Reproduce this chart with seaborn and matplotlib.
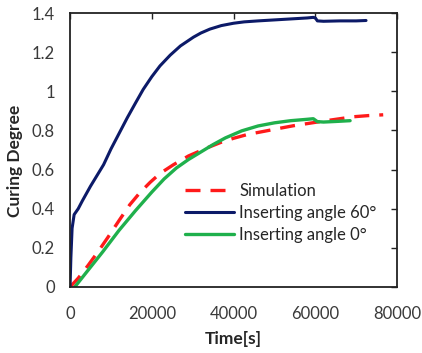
import matplotlib
matplotlib.use("Agg")
import matplotlib.pyplot as plt
import seaborn as sns

# ---- data ----
sim_t = [0, 2000, 4400, 7000, 9300, 12000, 14600, 17000, 19600, 22000, 25300,
         29000, 33400, 37000, 40000, 43500, 47300, 51000, 54600, 58000, 62000,
         66000, 69300, 73000, 76600]
sim_y = [0, 0.045, 0.11, 0.185, 0.255, 0.34, 0.42, 0.48, 0.535, 0.58, 0.625,
         0.67, 0.71, 0.74, 0.76, 0.78, 0.795, 0.81, 0.824, 0.835, 0.848,
         0.86, 0.87, 0.876, 0.88]

a60_t = [0, 200, 500, 1000, 2000, 3000, 5000, 8200, 10000, 12000, 14000, 16000,
         17900, 20000, 22000, 24500, 27000, 30200, 32000, 34200, 37000, 40000,
         42600, 46000, 50000, 54000, 58000, 59500, 60000, 60500, 62000, 66000,
         70000, 72400]
a60_y = [0, 0.15, 0.30, 0.37, 0.40, 0.44, 0.515, 0.625, 0.705, 0.785, 0.865, 0.94,
         1.01, 1.075, 1.13, 1.185, 1.232, 1.277, 1.298, 1.318, 1.336, 1.348,
         1.355, 1.36, 1.365, 1.37, 1.375, 1.378, 1.375, 1.36, 1.358, 1.36,
         1.36, 1.362]

a0_t = [1150, 4000, 8000, 12000, 16000, 20000, 23000, 26000, 29000, 32000,
        35000, 38000, 42000, 46000, 50000, 54000, 58000, 59500, 60500, 62000,
        65000, 68500]
a0_y = [0, 0.075, 0.18, 0.29, 0.39, 0.485, 0.552, 0.608, 0.652, 0.69,
        0.728, 0.762, 0.798, 0.823, 0.839, 0.85, 0.857, 0.86, 0.845, 0.843,
        0.846, 0.85]

labels = ["Simulation", "Inserting angle 60°", "Inserting angle 0°"]
x_ticks = [0, 20000, 40000, 60000, 80000]
y_ticks = [0, 0.2, 0.4, 0.6, 0.8, 1.0, 1.2, 1.4]
y_tick_labels = ["0", "0.2", "0.4", "0.6", "0.8", "1", "1.2", "1.4"]

sns.set_style("white")
plt.rcParams["font.family"] = ["Lato", "DejaVu Sans"]

fig = plt.figure(figsize=(4.22, 3.53), dpi=100)
ax = fig.add_axes([0.166, 0.187, 0.775, 0.776])

sns.lineplot(x=sim_t, y=sim_y, ax=ax, color="#ff1a1a", lw=2.4,
             label=labels[0], estimator=None, sort=False)
ax.lines[-1].set_dashes([4.5, 3.0])
sns.lineplot(x=a60_t, y=a60_y, ax=ax, color="#0c1a68", lw=2.2,
             label=labels[1], estimator=None, sort=False)
sns.lineplot(x=a0_t, y=a0_y, ax=ax, color="#1fb04c", lw=2.4,
             label=labels[2], estimator=None, sort=False)

ax.set_xlim(0, 80000)
ax.set_ylim(0, 1.4)
ax.set_xticks(x_ticks)
ax.set_xticklabels([str(v) for v in x_ticks])
ax.set_yticks(y_ticks)
ax.set_yticklabels(y_tick_labels)
ax.tick_params(direction="in", length=4, width=1, top=True, right=True,
               labelsize=12, labelcolor="#3a3a3a", color="#222222")
ax.tick_params(axis="x", pad=14)
ax.tick_params(axis="y", pad=11)
for s in ax.spines.values():
    s.set_visible(True)
    s.set_color("#222222")
    s.set_linewidth(1.3)

ax.set_xlabel("Time[s]", fontsize=12.5, fontweight="bold", labelpad=6)
ax.set_ylabel("Curing Degree", fontsize=12.5, fontweight="bold")
ax.yaxis.set_label_coords(-0.145, 0.46)

leg = ax.legend(loc="upper left", bbox_to_anchor=(0.352, 0.38), frameon=False,
                fontsize=12, handlelength=2.9, handletextpad=0.35,
                labelspacing=0.35, borderpad=0, borderaxespad=0)

fig.savefig("out.png", dpi=100)
